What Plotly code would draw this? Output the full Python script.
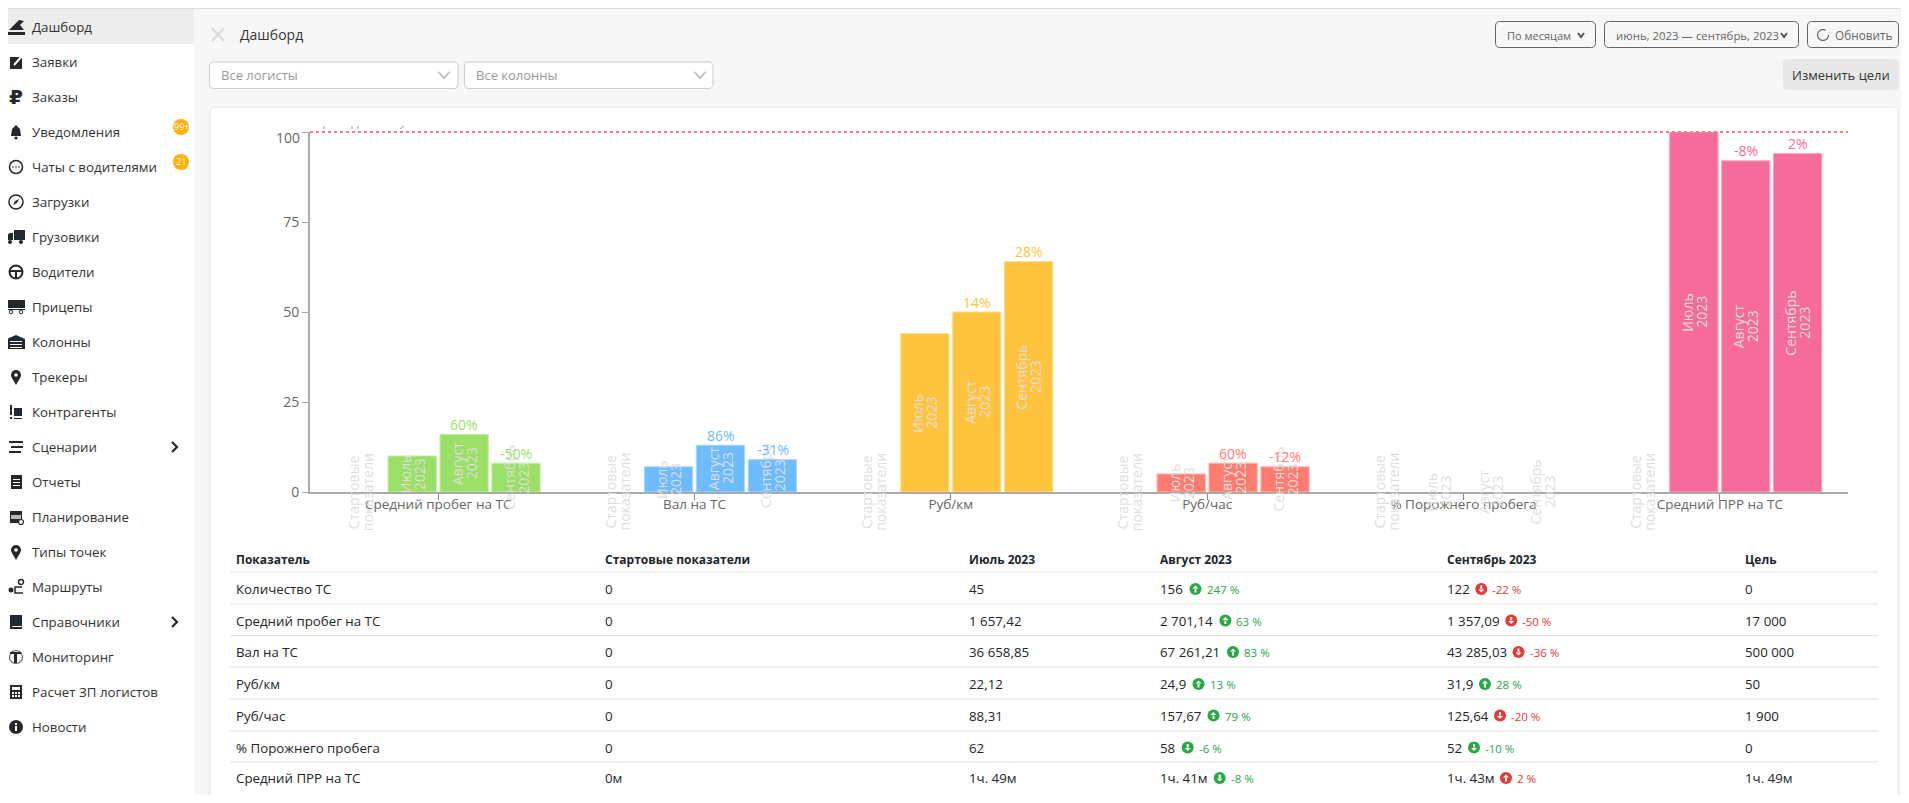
import math
import plotly.graph_objects as go

# ---------------------------
# Chart data
# ---------------------------
categories = ["Средний пробег на ТС", "Вал на ТС", "Руб/км", "Руб/час", "% Порожнего пробега", "Средний ПРР на ТС"]
start_values = [0, 0, 0, 0, 0, 0]
july_values = [10, 7, 44, 5, 0, 100]
august_values = [16, 13, 50, 8, 0, 92]
september_values = [8, 9, 64, 7, 0, 94]
august_pct = ["60%", "86%", "14%", "60%", "", "-8%"]
september_pct = ["-50%", "-31%", "28%", "-12%", "", "2%"]
bar_colors = ["#9bdf66", "#6dbcff", "#ffc43d", "#ff7d70", "#dddddd", "#f56b9b"]
border_colors = ["#c3eca3", "#a9d7ff", "#ffdc8b", "#ffb1a9", "#eeeeee", "#f9a6c3"]
month_labels = [["Стартовые", "показатели"], ["Июль", "2023"], ["Август", "2023"], ["Сентябрь", "2023"]]
y_ticks = [0, 25, 50, 75, 100]

# ---------------------------
# Table data
# ---------------------------
table_headers = ["Показатель", "Стартовые показатели", "Июль 2023", "Август 2023", "Сентябрь 2023", "Цель"]
row_names = ["Количество ТС", "Средний пробег на ТС", "Вал на ТС", "Руб/км", "Руб/час", "% Порожнего пробега", "Средний ПРР на ТС"]
start_col = ["0", "0", "0", "0", "0", "0", "0м"]
july_col = ["45", "1 657,42", "36 658,85", "22,12", "88,31", "62", "1ч. 49м"]
august_col = ["156", "2 701,14", "67 261,21", "24,9", "157,67", "58", "1ч. 41м"]
september_col = ["122", "1 357,09", "43 285,03", "31,9", "125,64", "52", "1ч. 43м"]
target_col = ["0", "17 000", "500 000", "50", "1 900", "0", "1ч. 49м"]
august_delta = ["247 %", "63 %", "83 %", "13 %", "79 %", "-6 %", "-8 %"]
september_delta = ["-22 %", "-50 %", "-36 %", "28 %", "-20 %", "-10 %", "2 %"]
august_good = [True, True, True, True, True, True, True]
september_good = [False, False, False, True, False, True, False]
august_up = [True, True, True, True, True, False, False]
september_up = [False, False, False, True, False, False, True]

menu_items = ["Дашборд", "Заявки", "Заказы", "Уведомления", "Чаты с водителями", "Загрузки", "Грузовики",
              "Водители", "Прицепы", "Колонны", "Трекеры", "Контрагенты", "Сценарии", "Отчеты", "Планирование",
              "Типы точек", "Маршруты", "Справочники", "Мониторинг", "Расчет ЗП логистов", "Новости"]

# ---------------------------
# Page geometry (the browser keeps an 8px body margin)
# ---------------------------
FIG_W = 1901
FIG_H = 787
FONT = "Open Sans"
DARK = "#212529"
GREEN = "#28a745"
RED = "#e53935"

shapes = []
annotations = []


def X(px):
    return (px - 8) / FIG_W


def Y(py):
    return 1 - (py - 8) / FIG_H


def rect(x0, y0, x1, y1, fill="rgba(0,0,0,0)", line=None, width=1):
    shapes.append(dict(type="rect", xref="paper", yref="paper", x0=X(x0), x1=X(x1), y0=Y(y0), y1=Y(y1), layer="below",
                       fillcolor=fill, line=dict(color=line or fill, width=width if line else 0)))


def rounded(x0, y0, x1, y1, r=4, fill="rgba(0,0,0,0)", line=None, width=1):
    k = r * 0.45
    d = f"M{X(x0 + r)},{Y(y0)} L{X(x1 - r)},{Y(y0)} "
    d += f"C{X(x1 - k)},{Y(y0)} {X(x1)},{Y(y0 + k)} {X(x1)},{Y(y0 + r)} L{X(x1)},{Y(y1 - r)} "
    d += f"C{X(x1)},{Y(y1 - k)} {X(x1 - k)},{Y(y1)} {X(x1 - r)},{Y(y1)} L{X(x0 + r)},{Y(y1)} "
    d += f"C{X(x0 + k)},{Y(y1)} {X(x0)},{Y(y1 - k)} {X(x0)},{Y(y1 - r)} L{X(x0)},{Y(y0 + r)} "
    d += f"C{X(x0)},{Y(y0 + k)} {X(x0 + k)},{Y(y0)} {X(x0 + r)},{Y(y0)} Z"
    shapes.append(dict(type="path", xref="paper", yref="paper", path=d, fillcolor=fill, layer="below",
                       line=dict(color=line or fill, width=width if line else 0)))


def poly(points, fill=None, line=None, width=1.5, close=True):
    d = "M" + " L".join(f"{X(a)},{Y(b)}" for a, b in points) + (" Z" if close else "")
    shapes.append(dict(type="path", xref="paper", yref="paper", path=d, fillcolor=fill or "rgba(0,0,0,0)", layer="below",
                       line=dict(color=line or fill, width=width if line else 0)))


def circle(cx, cy, r, fill="rgba(0,0,0,0)", line=None, width=1.5):
    shapes.append(dict(type="circle", xref="paper", yref="paper", x0=X(cx - r), x1=X(cx + r), y0=Y(cy - r), layer="below",
                       y1=Y(cy + r), fillcolor=fill, line=dict(color=line or fill, width=width if line else 0)))


def text(x, y, s, size=14, color=DARK, anchor="left", family=FONT, bold=False):
    annotations.append(dict(xref="paper", yref="paper", x=X(x), y=Y(y), text=f"<b>{s}</b>" if bold else s,
                            showarrow=False, xanchor=anchor, yanchor="middle", borderpad=0,
                            font=dict(family=family, size=size, color=color)))


def chevron_down(cx, cy, w, h, color, width=1.5):
    poly([(cx - w, cy - h), (cx, cy + h), (cx + w, cy - h)], line=color, width=width, close=False)


# ---------------------------
# Page background and sidebar
# ---------------------------
rect(8, 8, 1909, 803, fill="#f7f7f7")
rect(8, 8, 194, 803, fill="#ffffff")
rect(8, 8, 1909, 9, fill="#dddddd")
rect(8, 9, 194, 44, fill="#ededed")

for i, item in enumerate(menu_items):
    text(31, 27 + i * 35, item, size=13.3, color="#333333")


def draw_icon(i, cx, cy):
    k = "#22282c"
    if i == 0:
        poly([(cx - 9, cy + 5), (cx + 9, cy + 5), (cx + 9, cy + 8), (cx - 9, cy + 8)], fill=k)
        poly([(cx - 7, cy + 3), (cx - 2, cy - 2), (cx + 3, cy - 7), (cx + 8, cy - 6), (cx + 4, cy - 2), (cx + 8, cy + 3)], fill=k)
    elif i == 1:
        rect(cx - 6, cy - 5, cx + 6, cy + 7, fill=k)
        poly([(cx - 2, cy + 3), (cx + 7, cy - 7)], line="#ffffff", width=2, close=False)
    elif i == 2:
        text(cx, cy, "<b>₽</b>", size=20, color=k, anchor="center", family="DejaVu Sans")
    elif i == 3:
        poly([(cx - 5, cy + 4), (cx - 4, cy - 3), (cx, cy - 7), (cx + 4, cy - 3), (cx + 5, cy + 4)], fill=k)
        circle(cx, cy + 6, 1.6, fill=k)
    elif i == 4:
        circle(cx, cy, 6.5, line=k)
        for dx in (-3, 0, 3):
            circle(cx + dx, cy, 0.8, fill=k)
    elif i == 5:
        circle(cx, cy, 7, line=k)
        poly([(cx + 3, cy - 3), (cx + 1, cy + 1), (cx - 3, cy + 3), (cx - 1, cy - 1)], fill=k)
    elif i == 6:
        rect(cx - 2, cy - 7, cx + 9, cy + 3, fill=k)
        poly([(cx - 9, cy + 3), (cx - 9, cy - 2), (cx - 6, cy - 4), (cx - 3, cy - 4), (cx - 3, cy + 3)], fill=k)
        circle(cx - 6, cy + 5, 2, fill=k)
        circle(cx + 5, cy + 5, 2, fill=k)
    elif i == 7:
        circle(cx, cy, 6.5, line=k, width=2)
        poly([(cx - 6, cy - 1), (cx + 6, cy - 1)], line=k, width=2, close=False)
        poly([(cx, cy), (cx, cy + 6)], line=k, width=2, close=False)
    elif i == 8:
        rect(cx - 8, cy - 7, cx + 9, cy + 1, fill=k)
        rect(cx - 9, cy + 2, cx + 9, cy + 3, fill=k)
        circle(cx - 5, cy + 5, 1.8, line=k, width=1)
        circle(cx + 5, cy + 5, 1.8, line=k, width=1)
    elif i == 9:
        poly([(cx - 9, cy + 7), (cx - 9, cy - 3), (cx, cy - 7), (cx + 9, cy - 3), (cx + 9, cy + 7)], fill=k)
        for dy in (-1, 2, 5):
            rect(cx - 6, cy + dy, cx + 6, cy + dy + 1, fill="#ffffff")
    elif i in (10, 15):
        circle(cx, cy - 2, 5, fill=k)
        poly([(cx - 4, cy + 1), (cx + 4, cy + 1), (cx, cy + 8)], fill=k)
        circle(cx, cy - 2, 1.8, fill="#ffffff")
    elif i == 11:
        rect(cx - 6, cy - 7, cx - 4, cy + 3, fill=k)
        rect(cx - 6, cy + 5, cx - 4, cy + 7, fill=k)
        rect(cx - 2, cy - 4, cx + 6, cy + 4, fill=k)
        rect(cx - 2, cy + 6, cx + 6, cy + 7, fill=k)
    elif i == 12:
        rect(cx - 7, cy - 6, cx + 7, cy - 4, fill=k)
        rect(cx - 5, cy - 1, cx + 7, cy + 1, fill=k)
        rect(cx - 7, cy + 4, cx + 5, cy + 6, fill=k)
    elif i == 13:
        rect(cx - 5, cy - 7, cx + 6, cy + 7, fill=k)
        for dy in (-3, 0, 3):
            rect(cx - 3, cy + dy, cx + 4, cy + dy + 1, fill="#ffffff")
    elif i == 14:
        rect(cx - 6, cy - 6, cx + 6, cy + 6, fill=k)
        rect(cx - 5, cy - 2, cx + 5, cy + 2, fill="#bbbbbb")
        circle(cx + 5, cy + 5, 2.5, fill="#ffffff", line=k, width=1.2)
    elif i == 16:
        circle(cx - 5, cy + 3, 2.5, fill=k)
        circle(cx + 5, cy - 5, 2.5, line=k)
        poly([(cx + 6, cy), (cx - 1, cy), (cx - 1, cy + 6), (cx + 7, cy + 6)], line=k, width=1.5, close=False)
    elif i == 17:
        rect(cx - 6, cy - 7, cx + 6, cy + 7, fill=k)
        rect(cx - 4, cy + 4, cx + 6, cy + 5, fill="#ffffff")
    elif i == 18:
        circle(cx, cy, 6.5, line="#666666", width=1.2)
        rect(cx - 6, cy - 5, cx + 5, cy - 3, fill=k)
        rect(cx - 2, cy - 4, cx + 1, cy + 6, fill=k)
    elif i == 19:
        rect(cx - 6, cy - 7, cx + 6, cy + 7, fill=k)
        rect(cx - 4, cy - 5, cx + 4, cy - 2, fill="#ffffff")
        for dx in (-3, 0, 3):
            for dy in (1, 4):
                rect(cx + dx - 1, cy + dy - 1, cx + dx + 1, cy + dy + 1, fill="#ffffff")
    elif i == 20:
        circle(cx, cy, 7, fill=k)
        rect(cx - 1, cy - 1, cx + 1, cy + 4, fill="#ffffff")
        rect(cx - 1, cy - 4, cx + 1, cy - 2, fill="#ffffff")


for i in range(len(menu_items)):
    draw_icon(i, 16, 27 + i * 35)

for cy, label in [(127, "99+"), (162, "21")]:
    circle(181, cy, 8, fill="#ffb000")
    text(181, cy, label, size=9, color="#ffffff", anchor="center")

for cy in (447, 622):
    poly([(172, cy - 5), (177, cy), (172, cy + 5)], line="#22282c", width=2.2, close=False)

# ---------------------------
# Page header and filters
# ---------------------------
poly([(212, 28), (224, 41)], line="#dcdcdc", width=2.5, close=False)
poly([(224, 28), (212, 41)], line="#dcdcdc", width=2.5, close=False)
text(239, 34, "Дашборд", size=14, color="#333333")

rounded(209.5, 62, 458, 88.5, fill="#ffffff", line="#cccccc")
text(220, 74.5, "Все логисты", size=13, color="#999999")
chevron_down(444, 75, 5.5, 3, "#c4c4c4", 2)
rounded(464.5, 62, 713, 88.5, fill="#ffffff", line="#cccccc")
text(475, 74.5, "Все колонны", size=13, color="#999999")
chevron_down(700, 75, 5.5, 3, "#c4c4c4", 2)

rounded(1495.5, 21.5, 1595.5, 47.5, fill="rgba(0,0,0,0)", line="#666666")
text(1506, 35.5, "По месяцам", size=11, color="#666666")
chevron_down(1581, 35, 3, 2, "#555555", 2)
rounded(1604.5, 21.5, 1798.5, 47.5, fill="rgba(0,0,0,0)", line="#666666")
text(1615, 35.5, "июнь, 2023 — сентябрь, 2023", size=11.4, color="#666666")
chevron_down(1784, 35, 3, 2, "#555555", 2)
rounded(1807.5, 21.5, 1898.5, 47.5, fill="rgba(0,0,0,0)", line="#666666")
poly([(1823 + 5.5 * math.cos(math.radians(a)), 35 - 5.5 * math.sin(math.radians(a))) for a in range(60, 370, 20)],
     line="#666666", width=1.2, close=False)
text(1834, 35.5, "Обновить", size=11.8, color="#666666")
rounded(1783, 59, 1899, 90, fill="#e8e8e8")
text(1841, 75, "Изменить цели", size=13, color="#333333", anchor="center")

rounded(210, 107, 1898, 830, fill="#ffffff", line="#e3e3e3")

# small clipped marks just above the target line
for a, b in [(324, 324), (352, 352), (358, 358)]:
    poly([(a, 126), (b, 129)], line="#999999", width=1, close=False)
poly([(400, 129), (404, 126)], line="#999999", width=1, close=False)

# ---------------------------
# Table
# ---------------------------
col_x = [235, 604, 968, 1159, 1446, 1743.5]
row_lines = [572, 604, 635.5, 667, 699, 731, 762]
row_centers = [589, 620.5, 652, 684, 715.5, 747.5, 778]
august_icon_x = [1195.5, 1225.4, 1233, 1198.5, 1213.5, 1187.7, 1219.7]
september_icon_x = [1481.3, 1511.2, 1518.5, 1485, 1500, 1474, 1506]

for x, header in zip(col_x, table_headers):
    text(x, 559, header, size=12, color=DARK, bold=True)
for y in row_lines:
    rect(230, y - 0.5, 1878, y + 0.5, fill="#dee2e6")


def delta_badge(cx, cy, label, good, up):
    color = GREEN if good else RED
    circle(cx, cy, 6, fill=color)
    tip = -3.5 if up else 3.5
    poly([(cx - 3, cy + tip * 0.15), (cx + 3, cy + tip * 0.15), (cx, cy + tip)], fill="#ffffff")
    rect(cx - 1, cy + (0 if up else -3.5), cx + 1, cy + (3.5 if up else 0), fill="#ffffff")
    text(cx + 10, cy + 0.5, label, size=11.5, color=color)


for r in range(len(row_names)):
    y = row_centers[r]
    for x, value in zip(col_x, [row_names[r], start_col[r], july_col[r], august_col[r], september_col[r], target_col[r]]):
        text(x, y, value, size=13.3, color=DARK)
    delta_badge(august_icon_x[r], y, august_delta[r], august_good[r], august_up[r])
    delta_badge(september_icon_x[r], y, september_delta[r], september_good[r], september_up[r])

# ---------------------------
# Bar chart
# ---------------------------
fig = go.Figure()
all_series = [start_values, july_values, august_values, september_values]
for values, labels in zip(all_series, month_labels):
    fig.add_trace(go.Bar(x=categories, y=values, name=" ".join(labels),
                         marker=dict(color=bar_colors,
                                     line=dict(color=border_colors, width=[1 if v else 0 for v in values])),
                         hoverinfo="x+y"))

# labels on the bars, one annotation per text line so the line gap stays tight
group_offsets = [-78, -26, 26, 78]
for values, labels, offset in zip(all_series, month_labels, group_offsets):
    for cat, v in zip(categories, values):
        for line, shift in zip(labels, (-7, 7)):
            annotations.append(dict(xref="x", yref="y", x=cat, y=v / 2, text=line, showarrow=False, textangle=-90,
                                    xshift=offset + shift, xanchor="center", yanchor="middle", borderpad=0,
                                    font=dict(family=FONT, size=14, color="#dedede")))

for values, pct, offset in [(august_values, august_pct, group_offsets[2]), (september_values, september_pct, group_offsets[3])]:
    for cat, v, label, color in zip(categories, values, pct, bar_colors):
        if label:
            annotations.append(dict(xref="x", yref="y", x=cat, y=v, text=label, showarrow=False, xshift=offset,
                                    yshift=10, xanchor="center", yanchor="middle", borderpad=0,
                                    font=dict(family=FONT, size=14, color=color)))

# 100 tick label sits a bit lower than its tick
annotations.append(dict(xref="paper", yref="y", x=X(301), y=y_ticks[-1], text="100", showarrow=False, xanchor="right",
                        yanchor="middle", yshift=-5, borderpad=0, font=dict(family=FONT, size=14, color="#666666")))

# target line, in paper coordinates so the plot area does not clip half of it
shapes.append(dict(type="line", xref="paper", yref="paper", x0=X(310), x1=X(1848), y0=Y(132), y1=Y(132),
                   line=dict(color="#ff7a80", width=2, dash="3px,3px")))

fig.update_layout(
    width=FIG_W,
    height=FIG_H,
    margin=dict(l=0, r=0, t=0, b=0),
    paper_bgcolor="#ffffff",
    plot_bgcolor="rgba(0,0,0,0)",
    barmode="group",
    bargap=0.19,
    bargroupgap=0.07,
    showlegend=False,
    font=dict(family=FONT),
    shapes=shapes,
    annotations=annotations,
    xaxis=dict(domain=[X(310), X(1848)], type="category", automargin=False, showgrid=False, showline=True,
               linecolor="#aaaaaa", linewidth=2, ticks="outside", ticklen=6, tickcolor="#888888", ticklabelstandoff=-7,
               tickfont=dict(family=FONT, size=13.5, color="#666666")),
    yaxis=dict(domain=[Y(492), Y(132)], range=[0, 100], automargin=False, showgrid=False, showline=True,
               linecolor="#aaaaaa", linewidth=2, ticks="outside", ticklen=6, tickcolor="#aaaaaa", tickvals=y_ticks,
               ticktext=[str(t) if t != y_ticks[-1] else "" for t in y_ticks],
               tickfont=dict(family=FONT, size=14, color="#666666")),
)

fig.write_html("out.html")
